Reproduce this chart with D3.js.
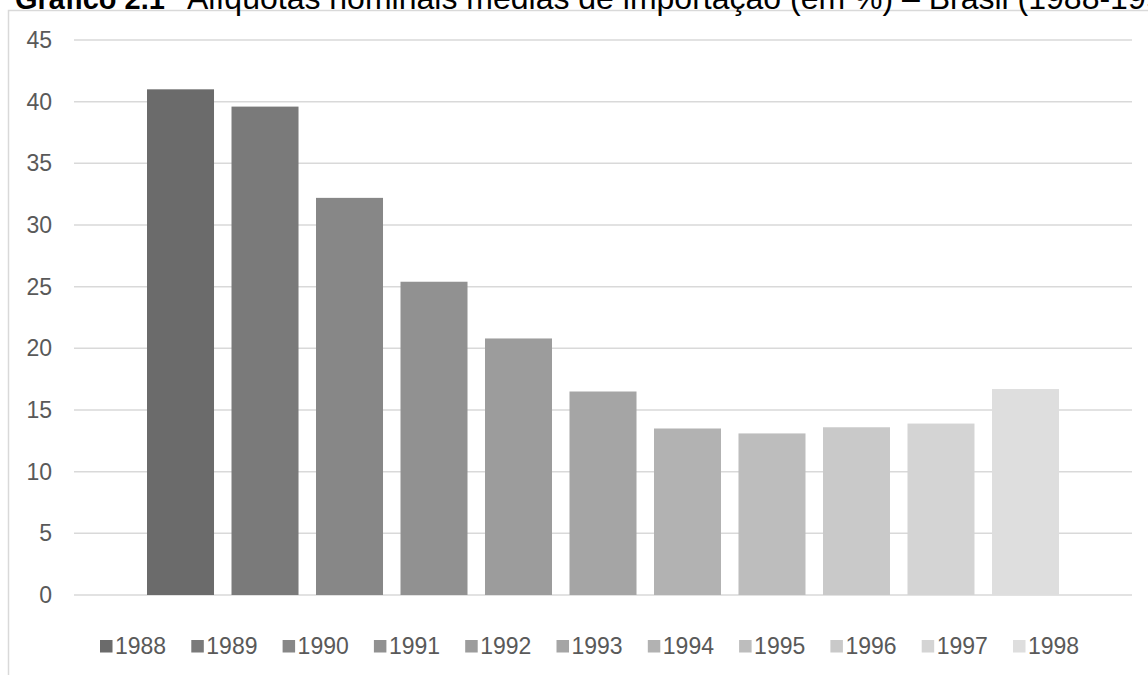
<!DOCTYPE html>
<html><head><meta charset="utf-8">
<script src="https://cdn.jsdelivr.net/npm/d3@7"></script>
<style>body{margin:0;background:#fff;}svg{display:block;}</style>
</head><body>
<svg id="chart" width="1148" height="675"></svg>
<script>
const years = ["1988","1989","1990","1991","1992","1993","1994","1995","1996","1997","1998"];
const values = [41.0, 39.6, 32.2, 25.4, 20.8, 16.5, 13.5, 13.1, 13.6, 13.9, 16.7];
const colors = ["#6b6b6b","#7a7a7a","#878787","#919191","#9c9c9c","#a5a5a5","#b2b2b2","#bdbdbd","#c9c9c9","#d4d4d4","#dedede"];
const yTicks = [0,5,10,15,20,25,30,35,40,45];
const titleBold = "Gráfico 2.1";
const titleRest = "Alíquotas nominais médias de importação (em %) – Brasil (1988-1998)";

const svg = d3.select("#chart");
const font = "'Liberation Sans', Arial, sans-serif";

// frame
svg.append("path").attr("d","M8.5,675 V10.5 H1148").attr("fill","none").attr("stroke","#d9d9d9").attr("stroke-width",1.5);

// title (cropped at top in the reference)
svg.append("text").attr("x",15).attr("y",9).attr("font-family",font).attr("font-size",29)
  .attr("font-weight","bold").attr("fill","#000").text(titleBold);
svg.append("text").attr("x",187).attr("y",9).attr("font-family",font).attr("font-size",32)
  .attr("fill","#000").text(titleRest);

const x = d3.scaleBand().domain(years).range([74,1132]).paddingInner(0.207).paddingOuter(0.864);
const y = d3.scaleLinear().domain([0,45]).range([595,40]);

// gridlines
svg.append("g").selectAll("line").data(yTicks).join("line")
  .attr("x1",74).attr("x2",1132)
  .attr("y1",d=>y(d)).attr("y2",d=>y(d))
  .attr("stroke","#d9d9d9").attr("stroke-width",1.5);

// y axis labels
const yAxis = svg.append("g").attr("transform","translate(60,0)")
  .call(d3.axisLeft(y).tickValues(yTicks).tickSize(0).tickPadding(8));
yAxis.select(".domain").remove();
yAxis.selectAll("text").attr("font-family",font).attr("font-size",23).attr("fill","#595959");

// bars
svg.append("g").selectAll("rect").data(years).join("rect")
  .attr("x",d=>x(d)).attr("width",x.bandwidth())
  .attr("y",(d,i)=>y(values[i])).attr("height",(d,i)=>y(0)-y(values[i]))
  .attr("fill",(d,i)=>colors[i]);

// legend
const lx = d3.scalePoint().domain(years).range([100,1013]);
const lg = svg.append("g").selectAll("g").data(years).join("g")
  .attr("transform",d=>`translate(${lx(d)},640)`);
lg.append("rect").attr("width",12.5).attr("height",12.5).attr("fill",(d,i)=>colors[i]);
lg.append("text").attr("x",15).attr("y",13.5).attr("font-family",font).attr("font-size",23).attr("fill","#595959").text(d=>d);
</script>
</body></html>
